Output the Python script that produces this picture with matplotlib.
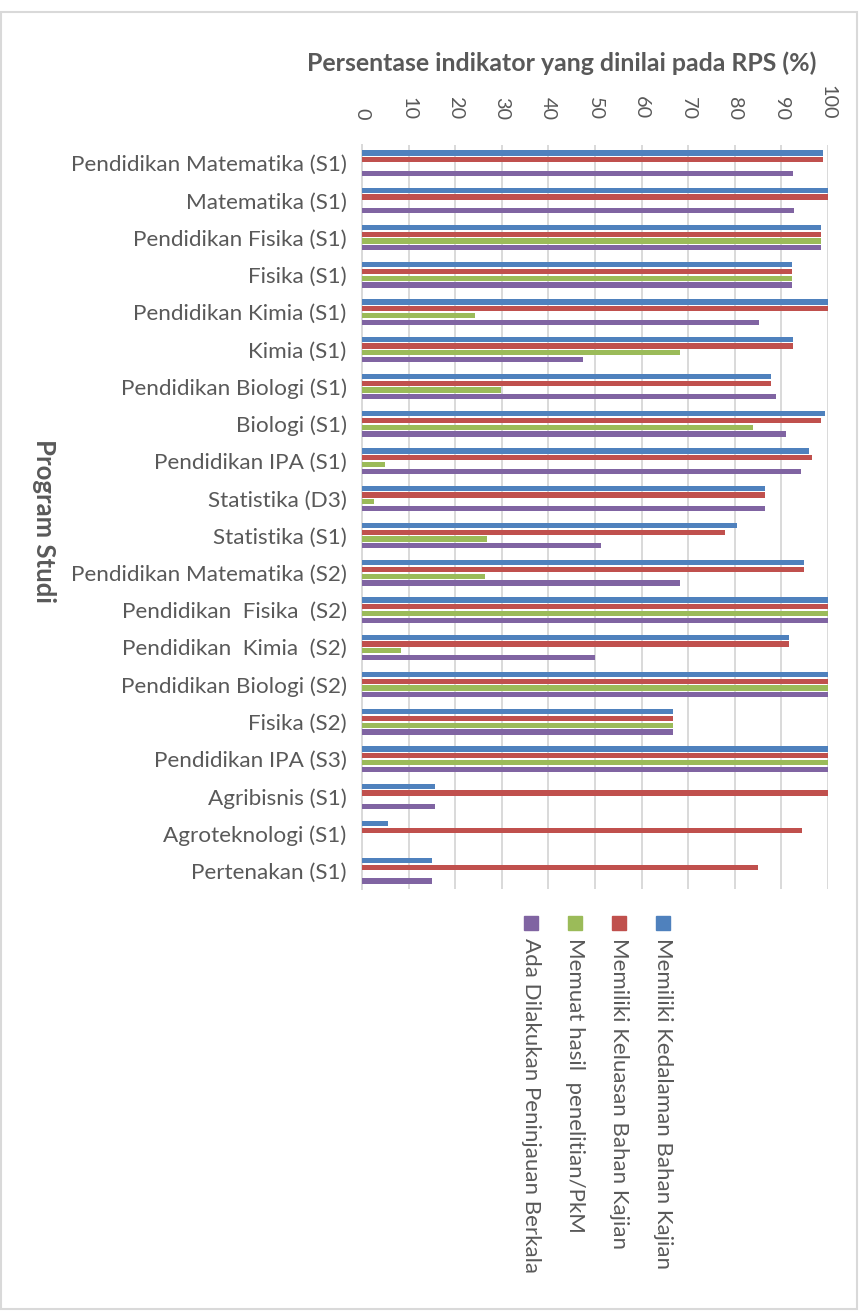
import numpy as np
import matplotlib
matplotlib.use("Agg")
import matplotlib.pyplot as plt
from matplotlib.patches import Rectangle

# --- Data ---
program_studi = [
    "Pendidikan Matematika (S1)", "Matematika (S1)", "Pendidikan Fisika (S1)",
    "Fisika (S1)", "Pendidikan Kimia (S1)", "Kimia (S1)", "Pendidikan Biologi (S1)",
    "Biologi (S1)", "Pendidikan IPA (S1)", "Statistika (D3)", "Statistika (S1)",
    "Pendidikan Matematika (S2)", "Pendidikan  Fisika  (S2)", "Pendidikan  Kimia  (S2)",
    "Pendidikan Biologi (S2)", "Fisika (S2)", "Pendidikan IPA (S3)", "Agribisnis (S1)",
    "Agroteknologi (S1)", "Pertenakan (S1)",
]
kedalaman = [99.0, 100, 98.6, 92.2, 100, 92.5, 87.8, 99.3, 95.9, 86.4,
             80.4, 94.8, 100, 91.7, 100, 66.7, 100, 15.7, 5.5, 15.0]
keluasan = [99.0, 100, 98.6, 92.2, 100, 92.5, 87.8, 98.6, 96.6, 86.4,
            78.0, 94.8, 100, 91.7, 100, 66.7, 100, 100, 94.4, 85.0]
hasil_penelitian = [0, 0, 98.6, 92.2, 24.2, 68.3, 29.9, 84.0, 5.0, 2.6,
                    26.8, 26.3, 100, 8.3, 100, 66.7, 100, 0, 0, 0]
peninjauan = [92.5, 92.7, 98.6, 92.2, 85.1, 47.4, 88.8, 91.0, 94.1, 86.4,
              51.2, 68.3, 100, 50.0, 100, 66.7, 100, 15.7, 0, 15.0]

series_labels = [
    "Memiliki Kedalaman Bahan Kajian",
    "Memiliki Keluasan Bahan Kajian",
    "Memuat hasil  penelitian/PkM",
    "Ada Dilakukan Peninjauan Berkala",
]
series_values = [kedalaman, keluasan, hasil_penelitian, peninjauan]
series_colors = ["#4F81BD", "#C0504D", "#9BBB59", "#8064A2"]
x_ticks = list(range(0, 101, 10))

TEXT_COLOR = "#595959"
GRID_COLOR = "#D9D9D9"
FONT = ["Lato", "DejaVu Sans"]
plt.rcParams["font.family"] = FONT

W, H = 867, 1314
fig = plt.figure(figsize=(W / 100, H / 100), dpi=100)
ax = fig.add_axes([362 / W, 1 - 889.4 / H, (828 - 362) / W, (889.4 - 144.6) / H])

# --- Batang horizontal, 4 seri per program studi ---
y_pos = np.arange(len(program_studi))
bar_step = 0.182
bar_height = 0.14
for k, (values, color) in enumerate(zip(series_values, series_colors)):
    offset = (k - 1.5) * bar_step
    ax.barh(y_pos + offset, values, height=bar_height, color=color, zorder=3)

ax.set_ylim(len(program_studi) - 0.5, -0.5)
ax.set_xlim(0, 100)

# sumbu X di atas, label diputar
ax.xaxis.tick_top()
ax.set_xticks(x_ticks)
ax.set_xticklabels([str(t) for t in x_ticks], rotation=270, fontsize=14.3, color=TEXT_COLOR)
ax.tick_params(axis="x", length=0, pad=18)
ax.set_yticks(y_pos)
ax.set_yticklabels(program_studi, fontsize=16.2, color=TEXT_COLOR)
ax.tick_params(axis="y", length=0, pad=11)

ax.grid(axis="x", color=GRID_COLOR, linewidth=1.4, zorder=0)
for side in ["top", "right", "bottom"]:
    ax.spines[side].set_visible(False)
ax.spines["left"].set_color(GRID_COLOR)
ax.spines["left"].set_linewidth(1.4)

# judul dan label sumbu
fig.text(562 / W, 1 - 63 / H, "Persentase indikator yang dinilai pada RPS (%)",
         fontsize=17.9, fontweight="bold", color=TEXT_COLOR, ha="center", va="center")
fig.text(44 / W, 1 - 521 / H, "Program Studi", fontsize=18.5, fontweight="bold",
         color=TEXT_COLOR, rotation=270, ha="center", va="center")

# legenda (teks vertikal)
legend_x = [663, 619, 575, 531]
for label, color, lx in zip(series_labels, series_colors, legend_x):
    fig.patches.append(Rectangle(((lx - 7) / W, 1 - 930 / H), 14 / W, 14 / H,
                                 transform=fig.transFigure, color=color))
    fig.text(lx / W, 1 - 938 / H, label, fontsize=16, color=TEXT_COLOR,
             rotation=270, ha="center", va="top")

# bingkai luar
fig.patches.append(Rectangle((0.5 / W, 1 - 1309 / H), 856.5 / W, 1297 / H,
                             transform=fig.transFigure, fill=False,
                             edgecolor=GRID_COLOR, linewidth=1.5))

fig.savefig("out.png", dpi=100)
